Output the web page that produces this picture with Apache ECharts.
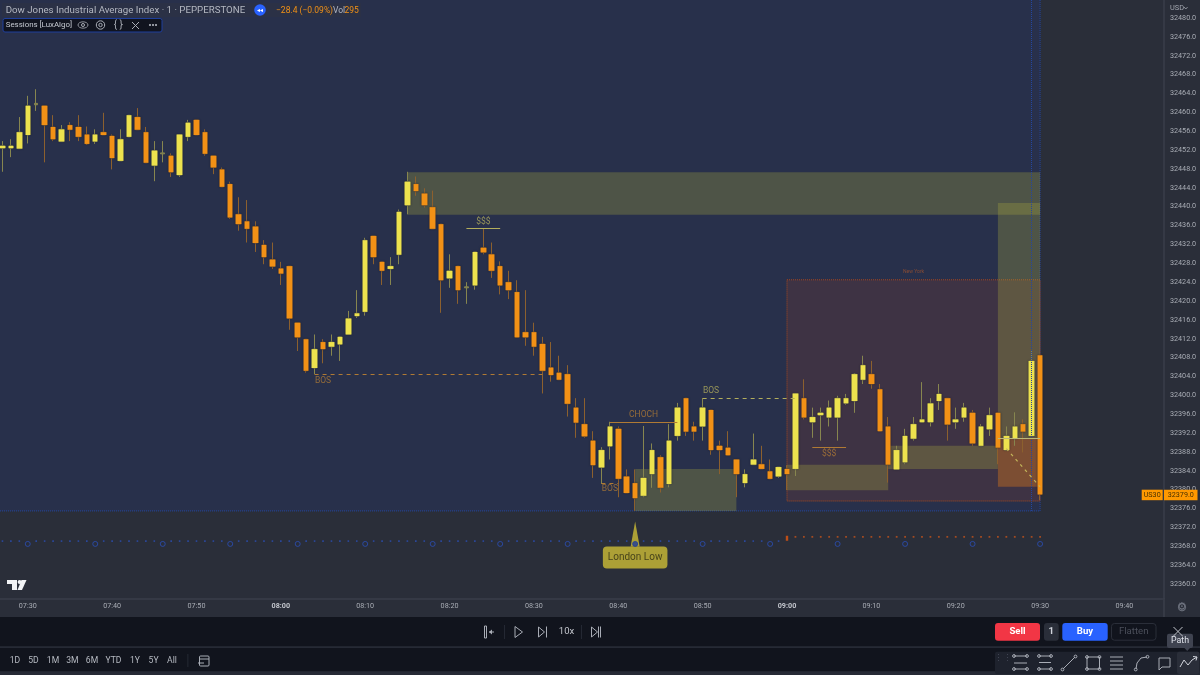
<!DOCTYPE html>
<html>
<head>
<meta charset="utf-8">
<style>html,body{margin:0;padding:0;background:#2a2e39}#main{width:1200px;height:675px}</style>
<script src="https://cdn.jsdelivr.net/npm/echarts@6/dist/echarts.min.js"></script>
</head>
<body>
<div id="main"></div>
<script>
// one minute candles, 07:27 to 09:30
var opens = [32452.4,32452.4,32452.3,32455.2,32461.6,32461.4,32456.9,32453.8,32457.3,32456.9,32455.3,32453.8,32455.8,32455.0,32449.7,32454.8,32459.0,32455.8,32448.7,32451.2,32450.8,32446.7,32454.8,32458.4,32455.8,32450.8,32447.9,32444.8,32438.4,32436.9,32435.8,32431.9,32428.8,32426.9,32427.4,32415.4,32411.9,32405.8,32411.3,32410.3,32410.8,32412.9,32416.8,32417.7,32433.8,32428.3,32426.8,32429.8,32440.3,32444.8,32442.8,32439.9,32436.3,32424.8,32427.4,32422.8,32423.3,32431.3,32429.9,32427.4,32424.0,32421.9,32413.4,32413.4,32410.9,32405.9,32404.8,32404.5,32397.4,32393.9,32390.4,32384.7,32389.2,32392.9,32382.8,32381.4,32378.7,32383.3,32386.9,32381.2,32391.4,32399.4,32393.4,32393.4,32396.9,32389.3,32388.9,32386.4,32381.4,32385.3,32385.4,32383.9,32382.8,32384.4,32384.4,32399.4,32394.3,32395.8,32395.3,32395.3,32398.3,32398.8,32403.3,32404.5,32401.3,32393.4,32384.3,32385.8,32390.8,32394.3,32394.3,32398.8,32399.4,32394.3,32395.3,32396.3,32389.3,32392.8,32396.3,32388.4,32390.8,32393.9,32391.4,32408.5];
var closes = [32452.9,32452.9,32455.8,32461.4,32461.9,32457.3,32454.3,32456.4,32456.3,32454.8,32453.3,32455.3,32455.2,32450.3,32454.3,32459.4,32456.3,32449.3,32451.9,32451.4,32447.3,32455.3,32457.8,32455.2,32451.2,32448.3,32444.2,32437.7,32436.3,32435.3,32432.3,32429.3,32427.3,32425.8,32416.3,32412.3,32405.2,32409.8,32409.8,32411.3,32412.4,32416.3,32417.4,32432.9,32429.3,32426.4,32427.4,32438.9,32445.3,32443.3,32440.3,32435.3,32424.4,32426.4,32422.3,32423.0,32430.4,32430.3,32426.4,32423.3,32422.3,32412.3,32412.3,32410.3,32405.2,32404.3,32403.3,32398.2,32394.2,32391.3,32385.2,32388.4,32393.4,32382.3,32379.3,32378.2,32382.5,32388.4,32380.4,32390.4,32397.4,32392.3,32392.3,32397.4,32388.4,32388.4,32387.3,32383.3,32383.3,32386.4,32384.4,32382.3,32384.8,32383.3,32400.4,32395.3,32395.4,32396.3,32397.4,32399.4,32399.4,32404.5,32406.4,32402.4,32392.4,32385.3,32388.4,32391.4,32393.9,32394.9,32398.3,32400.3,32393.8,32394.9,32397.4,32389.8,32393.4,32395.8,32388.9,32391.4,32393.4,32392.3,32407.3,32379.0];
var lows = [32447.4,32450.5,32452.3,32453.4,32460.3,32449.4,32453.9,32453.8,32453.9,32453.9,32453.1,32453.3,32455.2,32447.9,32449.7,32454.8,32456.3,32449.3,32445.4,32449.4,32446.3,32446.3,32453.9,32455.2,32450.8,32446.9,32444.2,32437.4,32434.9,32432.4,32430.4,32427.8,32426.8,32423.4,32413.9,32409.4,32404.8,32404.5,32406.8,32408.4,32407.3,32412.9,32416.4,32416.9,32427.8,32423.4,32423.4,32427.8,32438.4,32442.3,32439.8,32435.3,32417.5,32422.8,32419.4,32419.4,32422.4,32429.9,32424.9,32421.4,32420.4,32412.3,32410.5,32408.4,32400.4,32402.9,32403.3,32395.5,32391.0,32391.0,32382.5,32381.2,32386.4,32378.4,32379.3,32375.5,32378.4,32380.4,32379.4,32380.5,32390.4,32391.4,32390.4,32390.4,32387.4,32383.3,32387.3,32378.4,32380.5,32385.3,32384.4,32382.3,32382.5,32379.9,32382.9,32394.9,32391.0,32390.4,32393.4,32390.4,32398.0,32396.3,32402.4,32401.4,32392.4,32381.5,32384.3,32385.4,32390.4,32394.3,32393.4,32396.9,32390.4,32392.9,32394.4,32389.3,32389.3,32391.4,32385.4,32388.4,32389.3,32387.9,32391.4,32377.8];
var highs = [32453.9,32454.3,32459.0,32463.5,32464.9,32461.4,32459.4,32457.3,32457.9,32459.4,32457.0,32456.4,32459.9,32455.3,32456.4,32459.4,32460.9,32456.9,32453.9,32453.9,32451.3,32455.3,32458.4,32458.4,32456.4,32450.8,32448.3,32445.3,32442.0,32441.4,32436.9,32432.9,32432.4,32428.3,32427.4,32415.4,32411.9,32412.9,32411.9,32412.9,32412.4,32417.9,32422.3,32433.4,32433.8,32428.3,32429.3,32439.4,32447.4,32446.4,32443.9,32443.4,32436.3,32429.9,32427.4,32424.0,32430.4,32435.4,32432.4,32428.4,32426.4,32424.4,32422.3,32415.4,32412.4,32411.3,32408.4,32406.4,32399.4,32399.4,32392.4,32389.0,32394.4,32393.4,32384.3,32384.3,32393.5,32389.8,32387.3,32393.9,32398.4,32399.4,32394.4,32399.4,32396.9,32390.4,32392.4,32386.4,32384.3,32391.9,32389.3,32386.4,32384.8,32385.2,32400.4,32403.4,32397.4,32397.4,32398.9,32399.9,32400.3,32404.7,32408.4,32407.3,32402.4,32395.4,32389.3,32392.9,32395.4,32402.8,32399.4,32402.4,32399.4,32397.4,32398.4,32396.9,32393.9,32397.4,32396.3,32393.4,32396.4,32394.9,32409.4,32408.5];

var priceTicks = [32360,32364,32368,32372,32376,32380,32384,32388,32392,32396,32400,32404,32408,32412,32416,32420,32424,32428,32432,32436,32440,32444,32448,32452,32456,32460,32464,32468,32472,32476,32480];
var timeTicks = ['07:30','07:40','07:50','08:00','08:10','08:20','08:30','08:40','08:50','09:00','09:10','09:20','09:30','09:40'];
var hourTicks = ['08:00','09:00'];
var lastPrice = '32379.0';

// price zones: from, to, top, bottom
var londonBox = ['07:26','09:30',32484.24,32375.5];
var newYorkBox = ['09:00','09:30',32424.5,32377.6];
var zoneUpper = ['08:15','09:30',32447.3,32438.3];
var zoneLow1 = ['08:42','08:54',32384.4,32375.5];
var zoneLow2 = ['09:00','09:12',32385.3,32379.9];
var zoneLow3 = ['09:12','09:25',32389.3,32384.4];
var targetBox = ['09:25','09:30',32440.8,32390.8];
var stopBox = ['09:25','09:30',32390.8,32380.6];

// structure lines: from, price, to, price
var bosLow1 = ['08:04',32404.4,'08:31',32404.4];
var sssHigh = ['08:22',32435.4,'08:26',32435.4];
var chochLine = ['08:39',32394.4,'08:47',32394.4];
var bosLow2 = ['08:38',32381.4,'08:40',32381.4];
var bosHigh = ['08:50',32399.4,'09:01',32399.4];
var sssLow = ['09:03',32389.1,'09:07',32389.1];
var entryLine = ['09:25',32390.8,'09:30',32390.8];
var pathLine = ['09:26',32388.7,'09:30',32380.6];
var sessionEdge = ['09:29',32484.24,'09:29',32375.5];

// text on the chart: text, time, price
var notesOrange = [['BOS','08:05',32403.0],['CHOCH','08:43',32395.8],['BOS','08:39',32380.1],['$$$','09:05',32387.6]];
var notesYellow = [['$$$','08:24',32436.7],['BOS','08:51',32400.9]];

var ringLevel = 32368.5, dotLevel = 32369.1, nyDotLevel = 32370.0;

var categories = [];
for (var m = 7 * 60 + 26; m < 7 * 60 + 26 + 139; m++) {
  var hh = Math.floor(m / 60), mm = m % 60;
  categories.push((hh < 10 ? '0' : '') + hh + ':' + (mm < 10 ? '0' : '') + mm);
}
var candleTimes = categories.slice(1, 125);
var ringTimes = [];
for (var r = 4; r <= 124; r += 8) ringTimes.push(categories[r]);

var YELLOW = '#ede24e', ORANGE = '#f29116', YELLOW_WICK = '#87864f', ORANGE_WICK = '#8c602e';
var DIM_ORANGE = '#b07a34', DIM_YELLOW = '#b3ae5c', BLUE = '#24479f';
var FONT = 'Roboto, sans-serif';

var wickData = candleTimes.map(function (t, i) {
  return [t, opens[i], closes[i], lows[i], highs[i]];
});
var bodyData = candleTimes.map(function (t, i) {
  if (Math.abs(opens[i] - closes[i]) < 0.35) return [t, '-', '-', '-', '-'];
  return [t, opens[i], closes[i], Math.min(opens[i], closes[i]), Math.max(opens[i], closes[i])];
});

function area(b, fill, extra) {
  var style = Object.assign({ color: fill }, extra || {});
  return [{ coord: [b[0], b[2]], itemStyle: style }, { coord: [b[1], b[3]] }];
}
function seg(s, color, type, width) {
  return [{ coord: [s[0], s[1]], lineStyle: { color: color, type: type, width: width || 1 } }, { coord: [s[2], s[3]] }];
}
function noteData(list, color) {
  return list.map(function (n) {
    return { value: [n[1], n[2]], label: { formatter: n[0], color: color } };
  });
}

var ZONE = 'rgba(172,172,62,0.29)';
var dotsBlue = categories.slice(1, 94).filter(function (t) { return ringTimes.indexOf(t) < 0; });
var dotsOrange = categories.slice(95, 125);

// --- window furniture around the chart ---
function rect(x, y, w, h, fill, r, stroke) {
  return { type: 'rect', z: 100, silent: true, shape: { x: x, y: y, width: w, height: h, r: r || 0 },
    style: { fill: fill, stroke: stroke || null, lineWidth: stroke ? 1 : 0 } };
}
function txt(x, y, s, color, size, align, weight) {
  return { type: 'text', z: 101, silent: true, x: x, y: y,
    style: { text: s, fill: color, fontSize: size, fontFamily: FONT, fontWeight: weight || 'normal',
      align: align || 'left', verticalAlign: 'middle' } };
}
function stroke(points, color, w) {
  return { type: 'polyline', z: 101, silent: true, shape: { points: points },
    style: { stroke: color, lineWidth: w || 1, fill: null } };
}
function poly(points, fill, line) {
  return { type: 'polygon', z: 101, silent: true, shape: { points: points },
    style: { fill: fill || null, stroke: line || null, lineWidth: 1 } };
}
function ring(x, y, r, color, fill) {
  return { type: 'circle', z: 101, silent: true, shape: { cx: x, cy: y, r: r },
    style: { stroke: color, lineWidth: 1, fill: fill || null } };
}

var ICON = '#a9adb6', BAR = '#11141d', EDGE = '#262a35';
var furniture = [
  // legend block
  rect(2, 3, 359, 14, '#2b3146'),
  txt(5.7, 10.5, 'Dow Jones Industrial Average Index · 1 · PEPPERSTONE', '#b4b8c2', 9.7),
  { type: 'circle', z: 101, silent: true, shape: { cx: 260, cy: 10, r: 5.8 }, style: { fill: '#2962ff' } },
  txt(260, 10, '◂◂', '#ffffff', 6, 'center'),
  txt(276, 10.5, '−28.4 (−0.09%)', '#f29116', 8.5),
  txt(333, 10.5, 'Vol', '#b4b8c2', 8.5),
  txt(344.5, 10.5, '295', '#f29116', 8.5),
  rect(3, 18.5, 159, 13.5, '#11141f', 2, '#1f3f9c'),
  txt(5.7, 25.5, 'Sessions [LuxAlgo]', '#c6cad2', 7.9),
  { type: 'ellipse', z: 101, silent: true, shape: { cx: 83, cy: 25, rx: 5, ry: 3.2 }, style: { stroke: ICON, fill: null, lineWidth: 0.8 } },
  ring(83, 25, 1.5, ICON),
  ring(100.5, 25, 4.2, ICON), ring(100.5, 25, 1.7, ICON),
  txt(118.3, 25, '{ }', ICON, 10, 'center'),
  stroke([[132, 22], [139, 29]], ICON), stroke([[139, 22], [132, 29]], ICON),
  ring(150, 25, 0.7, ICON, ICON), ring(153, 25, 0.7, ICON, ICON), ring(156, 25, 0.7, ICON, ICON),

  // price axis top label and last price tag
  txt(1170, 8, 'USD', '#a3a7b0', 7.4),
  stroke([[1184, 7], [1185.8, 9], [1187.6, 7]], '#a3a7b0', 0.8),
  rect(1141.7, 489.7, 21, 10.5, '#ff9800'),
  txt(1152.2, 495.2, 'US30', '#4a3100', 7.2, 'center'),
  rect(1164, 489.7, 33.5, 10.5, '#ff9800'),
  txt(1180.8, 495.2, lastPrice, '#4a3100', 7.2, 'center'),

  // strip edges
  rect(1163.2, 598, 1.6, 19, '#3a3e4a'),
  ring(1182, 607.3, 3.6, '#6f7480'),
  txt(1182, 607.3, '⚙', '#6f7480', 11, 'center'),

  // watermark logo
  poly([[7, 580], [17, 580], [17, 590], [12, 590], [12, 584], [7, 584]], '#f2f3f5'),
  { type: 'circle', z: 101, silent: true, shape: { cx: 19.6, cy: 582, r: 2 }, style: { fill: '#f2f3f5' } },
  poly([[21.5, 580], [26.5, 580], [22, 590], [17.5, 590]], '#f2f3f5'),

  // replay bar
  rect(0, 617, 1200, 29.5, BAR),
  rect(0, 646.5, 1200, 1.5, EDGE),
  rect(0, 648, 1200, 23.5, BAR),
  rect(0, 671.5, 1200, 3.5, EDGE),

  rect(484.5, 626, 2, 12, null, 0, ICON),
  stroke([[489, 632], [494, 632]], ICON), poly([[489, 632], [492, 629.5], [492, 634.5]], ICON),
  rect(504, 625, 0.8, 14, '#2a2e39'),
  poly([[515, 626.5], [522.5, 632], [515, 637.5]], null, ICON),
  poly([[538.5, 627], [544.5, 632], [538.5, 637]], null, ICON),
  stroke([[546.5, 626.5], [546.5, 637.5]], ICON),
  txt(566.5, 632, '10x', '#c3c6cd', 9.5, 'center'),
  rect(581, 625, 0.8, 14, '#2a2e39'),
  poly([[591.5, 627], [597.5, 632], [591.5, 637]], null, ICON),
  stroke([[598.5, 626.5], [598.5, 637.5]], ICON), stroke([[600.5, 626.5], [600.5, 637.5]], ICON),

  rect(995, 623, 45, 17.7, '#f23645', 3),
  txt(1017.5, 632, 'Sell', '#ffffff', 9.6, 'center', 'bold'),
  rect(1044, 623, 14.7, 17.7, '#2a2e39', 3),
  txt(1051.3, 632, '1', '#d1d4dc', 9.6, 'center', 'bold'),
  rect(1062.3, 623, 45.4, 17.7, '#2962ff', 3),
  txt(1085, 632, 'Buy', '#ffffff', 9.6, 'center', 'bold'),
  rect(1111.5, 623.5, 44.5, 16.7, 'rgba(0,0,0,0)', 3, '#2a2e39'),
  txt(1133.7, 632, 'Flatten', '#4b4f5a', 9.6, 'center'),
  stroke([[1173.5, 627], [1182.5, 636]], '#c3c6cd'), stroke([[1182.5, 627], [1173.5, 636]], '#c3c6cd'),

  // range buttons
  txt(15, 661, '1D', '#b6bac2', 8.6, 'center'),
  txt(33.5, 661, '5D', '#b6bac2', 8.6, 'center'),
  txt(53, 661, '1M', '#b6bac2', 8.6, 'center'),
  txt(72.3, 661, '3M', '#b6bac2', 8.6, 'center'),
  txt(92, 661, '6M', '#b6bac2', 8.6, 'center'),
  txt(113.4, 661, 'YTD', '#b6bac2', 8.6, 'center'),
  txt(135, 661, '1Y', '#b6bac2', 8.6, 'center'),
  txt(153.6, 661, '5Y', '#b6bac2', 8.6, 'center'),
  txt(172, 661, 'All', '#b6bac2', 8.6, 'center'),
  rect(187.5, 654, 0.8, 13, '#2a2e39'),
  rect(199.5, 656, 9.5, 10, null, 1, ICON),
  stroke([[199.5, 659], [209, 659]], ICON),
  stroke([[198, 663], [204, 663]], ICON),

  // drawing toolbar
  rect(995, 651.7, 204.5, 22.3, '#1e222d', 2),
  rect(1177, 651.7, 22.5, 22.3, '#2a2e39', 2),
  txt(1002.5, 659, '⋮⋮', '#434856', 9, 'center'),
  stroke([[1014, 656], [1027, 656]], ICON), stroke([[1014, 663], [1027, 663]], ICON), stroke([[1014, 669], [1027, 669]], ICON),
  ring(1014, 656, 1.4, ICON), ring(1027, 669, 1.4, ICON), ring(1027, 656, 1.4, ICON), ring(1014, 669, 1.4, ICON),
  stroke([[1039, 656], [1051, 656]], ICON), stroke([[1039, 662.5], [1051, 662.5]], ICON), stroke([[1039, 669], [1051, 669]], ICON),
  ring(1039, 656, 1.4, ICON), ring(1051, 669, 1.4, ICON), ring(1051, 656, 1.4, ICON), ring(1039, 669, 1.4, ICON),
  stroke([[1063, 669], [1075, 657]], ICON), ring(1062.5, 669.5, 1.4, ICON), ring(1075.5, 656.5, 1.4, ICON),
  rect(1087, 657, 12.5, 12, null, 0, ICON),
  ring(1087, 657, 1.4, ICON), ring(1099.5, 657, 1.4, ICON), ring(1087, 669, 1.4, ICON), ring(1099.5, 669, 1.4, ICON),
  stroke([[1110, 657], [1123, 657]], ICON), stroke([[1110, 661], [1123, 661]], ICON), stroke([[1110, 665], [1123, 665]], ICON), stroke([[1110, 669], [1123, 669]], ICON),
  stroke([[1136, 669], [1137, 663], [1141, 658], [1147, 657]], ICON), ring(1135.7, 669.5, 1.4, ICON), ring(1147.5, 656.8, 1.4, ICON),
  stroke([[1159, 658], [1170, 658], [1170, 667], [1162, 667], [1159, 670], [1159, 658]], ICON),
  stroke([[1180, 667], [1184, 660], [1188, 665], [1192, 660], [1197, 657]], '#d1d4dc'),
  stroke([[1193, 656.5], [1197, 657], [1196, 660.5]], '#d1d4dc'),

  // tooltip over the toolbar
  rect(1167, 633.7, 26, 14.3, '#3f4350', 2),
  poly([[1184.5, 648], [1190, 648], [1187.2, 651]], '#3f4350'),
  txt(1180, 641, 'Path', '#e0e3ea', 8.8, 'center')
];

var option = {
  animation: false,
  backgroundColor: '#2a2e39',
  grid: { left: -10.2, width: 1172.6, top: -2, height: 600.5, outerBoundsMode: 'none' },
  xAxis: {
    type: 'category',
    data: categories,
    boundaryGap: true,
    axisLine: { lineStyle: { color: '#3a3e4a', width: 1.5 } },
    axisTick: { show: false },
    splitLine: { show: false },
    axisLabel: {
      interval: function (i, v) { return timeTicks.indexOf(v) >= 0; },
      margin: 4.5,
      fontFamily: FONT,
      fontSize: 7.2,
      color: '#a9adb5',
      formatter: function (v) { return hourTicks.indexOf(v) >= 0 ? '{hour|' + v + '}' : v; },
      rich: { hour: { fontFamily: FONT, fontSize: 7.2, fontWeight: 'bold', color: '#c3c6cd' } }
    }
  },
  yAxis: {
    type: 'value',
    position: 'right',
    offset: 1.6,
    min: 32356.93,
    max: 32484.24,
    splitLine: { show: false },
    axisLine: { show: true, lineStyle: { color: '#3a3e4a', width: 1.5 } },
    axisTick: { show: false },
    axisLabel: {
      customValues: priceTicks,
      margin: 6,
      fontFamily: FONT,
      fontSize: 7.2,
      color: '#a9adb5',
      formatter: function (v) { return v.toFixed(1); }
    }
  },
  series: [
    {
      name: 'wicks',
      type: 'candlestick',
      z: 2,
      barWidth: 4,
      encode: { x: 0, y: [1, 2, 3, 4] },
      data: wickData,
      itemStyle: { color: YELLOW_WICK, color0: ORANGE_WICK, borderColor: YELLOW_WICK, borderColor0: ORANGE_WICK, borderWidth: 1 },
      markArea: {
        silent: true,
        z: 1,
        label: { show: false },
        data: [
          area(londonBox, '#28304b', { borderColor: BLUE, borderType: 'dotted', borderWidth: 1 }),
          area(newYorkBox, 'rgba(200,70,30,0.14)', { borderColor: '#a8481f', borderType: 'dotted', borderWidth: 1 }),
          area(zoneUpper, ZONE),
          area(zoneLow1, ZONE),
          area(zoneLow2, ZONE),
          area(zoneLow3, ZONE),
          area(targetBox, ZONE),
          area(stopBox, 'rgba(240,130,20,0.35)')
        ]
      }
    },
    {
      name: 'bodies',
      type: 'candlestick',
      z: 3,
      barWidth: 6,
      encode: { x: 0, y: [1, 2, 3, 4] },
      data: bodyData,
      itemStyle: { color: YELLOW, color0: ORANGE, borderColor: YELLOW, borderColor0: ORANGE, borderWidth: 0,
        shadowColor: 'rgba(18,22,40,0.8)', shadowBlur: 2 },
      markLine: {
        silent: true,
        symbol: 'none',
        label: { show: false },
        data: [
          seg(sessionEdge, BLUE, 'dotted'),
          seg(bosLow1, DIM_ORANGE, [4, 4]),
          seg(bosLow2, DIM_ORANGE, [4, 4]),
          seg(chochLine, DIM_ORANGE, 'solid', 1.2),
          seg(sssLow, DIM_ORANGE, 'solid', 1.2),
          seg(sssHigh, DIM_YELLOW, 'solid'),
          seg(bosHigh, DIM_YELLOW, [4, 4]),
          seg(entryLine, '#bcb878', 'solid', 1.2),
          seg(pathLine, '#c4b65a', [3, 4], 1.2)
        ]
      }
    },
    {
      name: 'notes',
      type: 'scatter',
      z: 6,
      symbolSize: 0,
      silent: true,
      label: { show: true, position: 'inside', fontSize: 8.5, fontFamily: FONT },
      data: noteData(notesOrange, DIM_ORANGE)
        .concat(noteData(notesYellow, DIM_YELLOW))
        .concat([{ value: ['09:15', 32426.3], label: { formatter: 'New York', color: '#a0522d', fontSize: 5 } }])
    },
    {
      name: 'blue dots',
      type: 'scatter',
      symbol: 'rect',
      symbolSize: 1.6,
      silent: true,
      itemStyle: { color: '#2a4fb8' },
      data: dotsBlue.map(function (t) { return [t, dotLevel]; })
    },
    {
      name: 'orange dots',
      type: 'scatter',
      symbol: 'rect',
      symbolSize: 1.8,
      silent: true,
      itemStyle: { color: '#c2521c' },
      data: dotsOrange.map(function (t) { return [t, nyDotLevel]; })
    },
    {
      name: 'ny open',
      type: 'scatter',
      symbol: 'rect',
      symbolSize: [2.4, 5],
      silent: true,
      itemStyle: { color: '#e2560f' },
      data: [['09:00', nyDotLevel - 0.3]]
    },
    {
      name: 'callout pin',
      type: 'scatter',
      z: 6,
      symbol: 'triangle',
      symbolSize: [9, 25],
      silent: true,
      itemStyle: { color: '#cdbd36' },
      data: [['08:42', 32370.6]]
    },
    {
      name: 'callout',
      type: 'scatter',
      z: 7,
      symbolSize: 0,
      silent: true,
      label: {
        show: true,
        position: 'inside',
        formatter: 'London Low',
        color: '#2d2c14',
        fontFamily: FONT,
        fontSize: 10,
        backgroundColor: '#cdbd36',
        borderRadius: 4,
        padding: [6, 5, 6, 5]
      },
      data: [['08:42', 32365.6]]
    },
    {
      name: 'session rings',
      type: 'scatter',
      z: 8,
      symbol: 'circle',
      symbolSize: 5,
      silent: true,
      itemStyle: { color: '#2a2e39', borderColor: '#2a4fb8', borderWidth: 1 },
      data: ringTimes.map(function (t) {
        return t === '08:42'
          ? { value: [t, ringLevel], itemStyle: { color: '#1f3c9a', borderColor: '#1f3c9a' } }
          : [t, ringLevel];
      })
    }
  ],
  graphic: { elements: furniture }
};

var myChart = echarts.init(document.getElementById('main'));
myChart.setOption(option);
</script>
</body>
</html>
